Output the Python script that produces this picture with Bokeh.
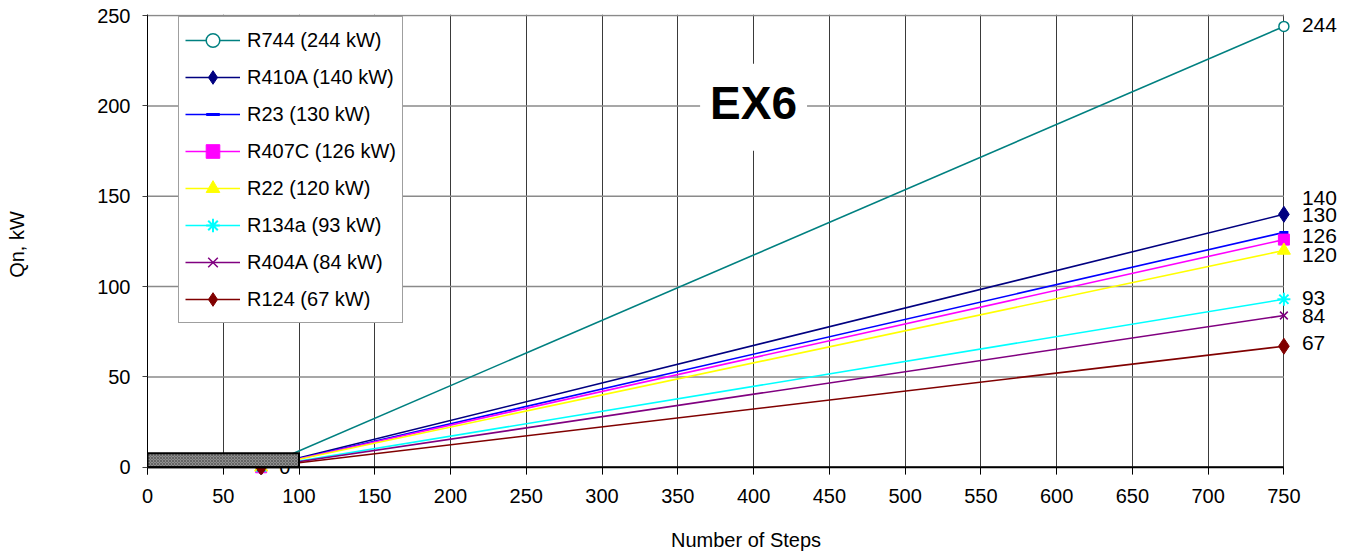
from bokeh.plotting import figure
from bokeh.models import Range1d, FixedTicker, Label, LabelSet, ColumnDataSource
from bokeh.embed import file_html
from bokeh.resources import INLINE
from bokeh.core.properties import value

# ---- data ----
refrigerants = ["R744", "R410A", "R23", "R407C", "R22", "R134a", "R404A", "R124"]
capacity_kw = [244, 140, 130, 126, 120, 93, 84, 67]
steps = [75, 750]
q_start = [0, 0, 0, 0, 0, 0, 0, 0]
q_end = [244, 140, 130, 126, 120, 93, 84, 67]
x_ticks = [0, 50, 100, 150, 200, 250, 300, 350, 400, 450, 500, 550, 600, 650, 700, 750]
y_ticks = [0, 50, 100, 150, 200, 250]
region_steps = [0, 100]
region_q = [0, 7.7]

# ---- styles ----
FONT = "Liberation Sans"
colors = ["#008080", "#000080", "#0000FF", "#FF00FF", "#FFFF00", "#00FFFF", "#800080", "#800000"]
markers = ["circle", "diamond", "dash", "square", "triangle", "asterisk", "x", "diamond"]
fills = ["white", "#000080", "#0000FF", "#FF00FF", "#FFFF00", "#00FFFF", "#800080", "#800000"]
msizes = [10, 16, 9, 11, 13, 13, 11, 16]
mlw = [1.5, 1, 3, 1, 1, 2, 1.5, 1]
label_dy = [1, 16, 17, 4, -5, 1, 0, 3]

p = figure(width=1351, height=558,
           x_range=Range1d(0, 790), y_range=Range1d(-4, 250.6),
           output_backend="svg", toolbar_location=None,
           min_border_left=147, min_border_right=7,
           min_border_top=14, min_border_bottom=84)
p.outline_line_color = None
p.background_fill_color = "white"

# grid
p.xgrid.ticker = FixedTicker(ticks=x_ticks)
p.xgrid.grid_line_color = "#3a3a3a"
p.xgrid.grid_line_width = 1
p.ygrid.visible = False
p.segment(x0=[x_ticks[0]] * len(y_ticks), x1=[x_ticks[-1]] * len(y_ticks),
          y0=y_ticks, y1=y_ticks, line_color="#8a8a8a", line_width=1.5)

# axes
for ax in (p.xaxis[0], p.yaxis[0]):
    ax.major_label_text_font = FONT
    ax.major_label_text_font_size = "20px"
    ax.major_label_text_color = "black"
    ax.axis_label_text_font = FONT
    ax.axis_label_text_font_size = "20px"
    ax.axis_label_text_font_style = "normal"
    ax.axis_label_text_color = "black"
    ax.minor_tick_line_color = None

p.xaxis.ticker = FixedTicker(ticks=x_ticks)
p.xaxis.axis_label = "Number of Steps"
p.xaxis.axis_line_color = None
p.xaxis.major_tick_in = 7
p.xaxis.major_tick_out = 0
p.xaxis.major_tick_line_color = "black"
p.xaxis.major_label_standoff = 14
p.xaxis.axis_label_standoff = 23

p.yaxis.ticker = FixedTicker(ticks=y_ticks)
p.yaxis.axis_label = "Qn, kW"
p.yaxis.axis_line_color = "black"
p.yaxis.major_tick_in = 0
p.yaxis.major_tick_out = 5
p.yaxis.major_tick_line_color = "#404040"
p.yaxis.major_label_standoff = 12
p.yaxis.axis_label_standoff = 66

# series
for i, name in enumerate(refrigerants):
    lab = f"{name} ({capacity_kw[i]} kW)"
    ys = [q_start[i], q_end[i]]
    p.line(steps, ys, line_color=colors[i], line_width=1.6, legend_label=lab)
    p.scatter(steps, ys, marker=markers[i], size=msizes[i], line_color=colors[i],
              fill_color=fills[i], line_width=mlw[i], legend_label=lab)

# zero label at first point
p.text(x=[steps[0]], y=[q_start[0]], text=[str(q_start[0])], x_offset=18,
       text_font=value(FONT), text_font_size="20px", text_color="black",
       text_align="left", text_baseline="middle")

# shaded region
p.quad(left=region_steps[0], right=region_steps[1], bottom=region_q[0], top=region_q[1],
       fill_color="#8f8f8f", hatch_pattern="x", hatch_scale=3, hatch_color="#5a5a5a",
       hatch_weight=0.8, line_color="black", line_width=2)

# x axis line at zero
p.segment(x0=[x_ticks[0]], x1=[x_ticks[-1]], y0=[y_ticks[0]], y1=[y_ticks[0]],
          line_color="black", line_width=2)

# end labels
src = ColumnDataSource(dict(x=[steps[-1]] * len(q_end), y=q_end,
                            t=[str(v) for v in q_end], dy=label_dy))
p.add_layout(LabelSet(x="x", y="y", text="t", source=src, x_offset=18, y_offset="dy",
                      text_font=value(FONT), text_font_size="21px", text_color="black",
                      text_align="left", text_baseline="middle"))

# EX6 title box
p.add_layout(Label(x=400, y=199.3, text="EX6", text_font=FONT, text_font_size="46px",
                   text_font_style="bold", text_color="black", text_align="center",
                   text_baseline="middle", background_fill_color="white",
                   padding=dict(left=10, right=10, top=13, bottom=22)))

# legend
lg = p.legend[0]
lg.location = (31, 151)
lg.label_text_font = FONT
lg.label_text_font_size = "20px"
lg.label_text_color = "black"
lg.glyph_width = 55
lg.glyph_height = 34
lg.label_height = 34
lg.spacing = 3
lg.padding = 6
lg.margin = 0
lg.label_standoff = 7
lg.border_line_color = "#404040"
lg.border_line_width = 1
lg.background_fill_color = "white"
lg.background_fill_alpha = 1

open("out.html", "w").write(file_html(p, INLINE))
